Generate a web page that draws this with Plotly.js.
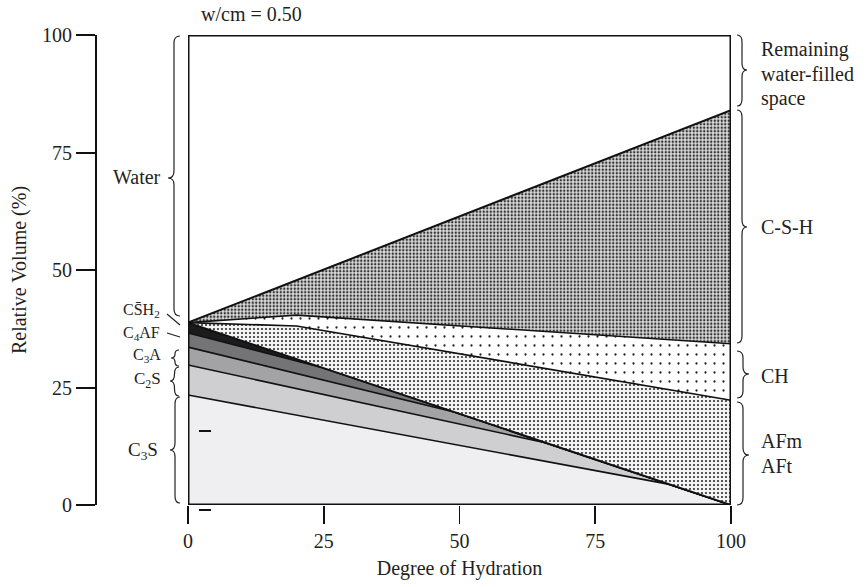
<!DOCTYPE html>
<html>
<head>
<meta charset="utf-8">
<script src="https://cdn.plot.ly/plotly-3.0.1.min.js"></script>
<style>html,body{margin:0;padding:0;background:#fff}#chart{width:866px;height:587px}</style>
</head>
<body>
<div id="chart"></div>
<script>
// ---- data (degree of hydration %, relative volume %) ----
var c3sTopX = [0, 88.2, 100];
var c3sTopY = [23.4, 4.5, 0];
var c2sTopX = [0, 66, 100];
var c2sTopY = [29.8, 13.2, 0];
var c3aTopX = [0, 49, 100];
var c3aTopY = [33.6, 19.8, 0];
var c4afTopX = [0, 24.8, 100];
var c4afTopY = [36.6, 29.2, 0];
var clinkerTopX = [0, 100];
var clinkerTopY = [38.8, 0];
var afmTopX = [0, 20, 100];
var afmTopY = [38.8, 38.1, 22.3];
var chTopX = [0, 20, 100];
var chTopY = [38.8, 40.4, 34.3];
var cshTopX = [0, 100];
var cshTopY = [38.8, 84];
var xTicks = [0, 25, 50, 75, 100];
var yTicks = [0, 25, 50, 75, 100];

var FONT = 'Liberation Serif, Times New Roman, serif';
var FS = 20;
var TXT = '#231f20';

function tr(x, y, fill, fillcolor, pattern, lw) {
  var t = {x: x, y: y, type: 'scatter', mode: 'lines', line: {color: '#111', width: lw || 1.6},
    fill: fill, fillcolor: fillcolor, hoverinfo: 'skip', showlegend: false};
  if (pattern) t.fillpattern = pattern;
  return t;
}

var data = [
  tr(c3sTopX, c3sTopY, 'tozeroy', '#efeff1'),
  tr(c2sTopX, c2sTopY, 'tonexty', '#cfcfd1'),
  tr(c3aTopX, c3aTopY, 'tonexty', '#a3a3a5'),
  tr(c4afTopX, c4afTopY, 'tonexty', '#747476'),
  tr(clinkerTopX, clinkerTopY, 'tonexty', '#1b1b1b', null, 2),
  tr(afmTopX, afmTopY, 'tonexty', '#ffffff', {shape: '.', size: 4, solidity: 0.24, fgcolor: '#333', bgcolor: '#f4f4f4'}),
  tr(chTopX, chTopY, 'tonexty', '#ffffff', {shape: '.', size: 9, solidity: 0.05, fgcolor: '#222', bgcolor: '#fff'}),
  tr(cshTopX, cshTopY, 'tonexty', '#ffffff', {shape: '.', size: 3.5, solidity: 0.38, fgcolor: '#333', bgcolor: '#dcdcdc'}, 2)
];

// pixel -> paper helpers (plot area: x 96..731, y 35..505)
function XP(px) { return (px - 96) / 635; }
function YP(py) { return (505 - py) / 470; }
function P(px, py) { return XP(px).toFixed(5) + ',' + YP(py).toFixed(5); }
function brace(x, y1, y2, ym, w) {
  var r = Math.min(7, (y2 - y1) / 4), h = x + w / 2;
  var p = 'M' + P(x, y1) + ' Q' + P(h, y1) + ' ' + P(h, y1 + r) +
    ' L' + P(h, ym - r) + ' Q' + P(h, ym) + ' ' + P(x + w, ym) +
    ' Q' + P(h, ym) + ' ' + P(h, ym + r) +
    ' L' + P(h, y2 - r) + ' Q' + P(h, y2) + ' ' + P(x, y2);
  return {type: 'path', xref: 'paper', yref: 'paper', path: p, line: {color: '#222', width: 1.2}, layer: 'above'};
}
function seg(x0, y0, x1, y1) {
  return {type: 'line', xref: 'paper', yref: 'paper', x0: XP(x0), y0: YP(y0), x1: XP(x1), y1: YP(y1),
    line: {color: '#222', width: 1.2}};
}

var shapes = [
  {type: 'rect', xref: 'x', yref: 'y', x0: 0, x1: 100, y0: 0, y1: 100, line: {color: '#111', width: 3}, layer: 'above'},
  // right braces
  brace(737, 35, 106, 70, 10),
  brace(737, 110, 343, 227, 10),
  brace(737, 351, 398, 374, 12),
  brace(737, 402, 505, 455, 12),
  // left braces
  brace(180, 36, 316, 178, -12),
  brace(179, 350, 366, 358, -8),
  brace(179, 367, 396, 381, -9),
  brace(180, 397, 503, 450, -10),
  // pointers
  seg(167, 314, 180, 325),
  seg(167, 333, 180, 337),
  // small dashes
  {type: 'line', xref: 'paper', yref: 'paper', x0: XP(199), x1: XP(211), y0: YP(431), y1: YP(431), line: {color: '#111', width: 2}},
  {type: 'line', xref: 'paper', yref: 'paper', x0: XP(199), x1: XP(211), y0: YP(510), y1: YP(510), line: {color: '#111', width: 2}}
];

function ann(text, px, py, anchor, size) {
  return {text: text, xref: 'paper', yref: 'paper', x: XP(px), y: YP(py), xanchor: anchor, yanchor: 'middle',
    showarrow: false, font: {family: FONT, size: size || FS, color: TXT}};
}

var annotations = [
  ann('w/cm = 0.50', 199, 14, 'left'),
  ann('Remaining', 759, 49, 'left'),
  ann('water-filled', 759, 74, 'left'),
  ann('space', 759, 98, 'left'),
  ann('C-S-H', 759, 227, 'left'),
  ann('CH', 759, 376, 'left'),
  ann('AFm', 759, 441, 'left'),
  ann('AFt', 759, 466, 'left'),
  ann('Water', 163, 177, 'right'),
  ann('CS\u0304H<sub>2</sub>', 162, 310, 'right', 16),
  ann('C<sub>4</sub>AF', 162, 333, 'right', 16),
  ann('C<sub>3</sub>A', 163, 356, 'right', 16),
  ann('C<sub>2</sub>S', 163, 380, 'right', 17),
  ann('C<sub>3</sub>S', 160, 451, 'right', 19)
];

var layout = {
  width: 866, height: 587,
  margin: {l: 96, r: 135, t: 35, b: 82},
  paper_bgcolor: '#fff', plot_bgcolor: '#fff',
  font: {family: FONT, size: FS, color: TXT},
  showlegend: false,
  xaxis: {domain: [92 / 635, 1], range: [0, 100], tickvals: xTicks, ticktext: xTicks.map(String),
    ticks: 'outside', ticklen: 18, tickwidth: 1.8, tickcolor: '#111',
    showgrid: false, zeroline: false, showline: false, fixedrange: true,
    tickfont: {family: FONT, size: FS, color: TXT},
    title: {text: 'Degree of Hydration', font: {family: FONT, size: FS, color: TXT}, standoff: 9}},
  yaxis: {range: [0, 100], anchor: 'free', position: 0, tickvals: yTicks, ticktext: yTicks.map(String),
    ticks: 'outside', ticklen: 19, tickwidth: 2, tickcolor: '#111',
    showline: true, linecolor: '#111', linewidth: 2,
    showgrid: false, zeroline: false, fixedrange: true,
    tickfont: {family: FONT, size: FS, color: TXT},
    title: {text: 'Relative Volume (%)', font: {family: FONT, size: FS, color: TXT}, standoff: 9}},
  shapes: shapes,
  annotations: annotations
};

Plotly.newPlot('chart', data, layout, {staticPlot: true, displayModeBar: false});
</script>
</body>
</html>
